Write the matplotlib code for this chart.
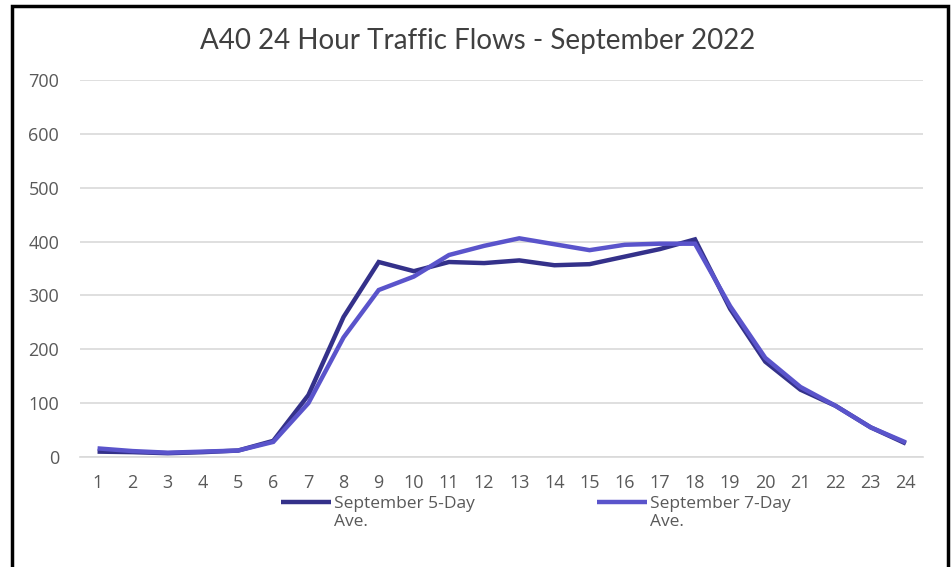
import numpy as np
import matplotlib.pyplot as plt
from matplotlib.patches import Rectangle
from matplotlib.legend_handler import HandlerLine2D

hours = list(range(1, 25))
five_day = [10, 9, 7, 9, 12, 30, 115, 260, 362, 345, 362, 360, 365, 356, 358,
            372, 386, 404, 275, 177, 125, 95, 55, 25]
seven_day = [16, 11, 8, 10, 12, 28, 100, 222, 310, 335, 375, 392, 406, 395, 384,
             394, 396, 396, 280, 184, 130, 95, 55, 27]
labels = ['September 5-Day\nAve.', 'September 7-Day\nAve.']

plt.rcParams['font.family'] = ['Open Sans', 'DejaVu Sans']

LEG_FS = 12.5


class FirstLineHandler(HandlerLine2D):
    # put the legend line next to the first line of a wrapped label
    def create_artists(self, legend, orig_handle, xdescent, ydescent, width,
                       height, fontsize, trans):
        arts = super().create_artists(legend, orig_handle, xdescent, ydescent,
                                      width, height, fontsize, trans)
        for a in arts:
            a.set_ydata(np.asarray(a.get_ydata()) + 0.65 * fontsize)
        return arts


fig = plt.figure(figsize=(9.52, 5.67), dpi=100)
ax = fig.add_axes([0.084, 0.194, 0.886, 0.665])

ax.plot(hours, five_day, color='#34318a', lw=3.2, label=labels[0],
        solid_joinstyle='miter', solid_capstyle='butt')
ax.plot(hours, seven_day, color='#5a54cb', lw=3.2, label=labels[1],
        solid_joinstyle='miter', solid_capstyle='butt')

ax.set_xlim(0.5, 24.5)
ax.set_ylim(0, 700)
ax.set_yticks(range(0, 701, 100))
ax.set_xticks(hours)
ax.grid(axis='y', color='#d9d9d9', lw=1.2)
ax.set_axisbelow(True)
for s in ['top', 'right', 'left']:
    ax.spines[s].set_visible(False)
ax.spines['bottom'].set_color('#d9d9d9')
ax.spines['bottom'].set_linewidth(1.2)
ax.tick_params(length=0, labelsize=13, colors='#595959')
ax.tick_params(axis='x', pad=12)
ax.tick_params(axis='y', pad=15)

fig.text(0.502, 0.927, 'A40 24 Hour Traffic Flows - September 2022', fontsize=20,
         color='#404040', family=['Lato', 'DejaVu Sans'], ha='center', va='center')

leg = ax.legend(loc='upper left', bbox_to_anchor=(0.23, -0.085), ncol=2,
                frameon=False, fontsize=LEG_FS, handlelength=2.9, handletextpad=0.17,
                columnspacing=7.0, labelcolor='#595959', borderaxespad=0,
                handler_map={plt.Line2D: FirstLineHandler()})

fig.patches.append(Rectangle((0.013, -0.01), 0.983, 1.0, transform=fig.transFigure,
                             fill=False, ec='black', lw=2.5))

fig.savefig('out.png', dpi=100)
